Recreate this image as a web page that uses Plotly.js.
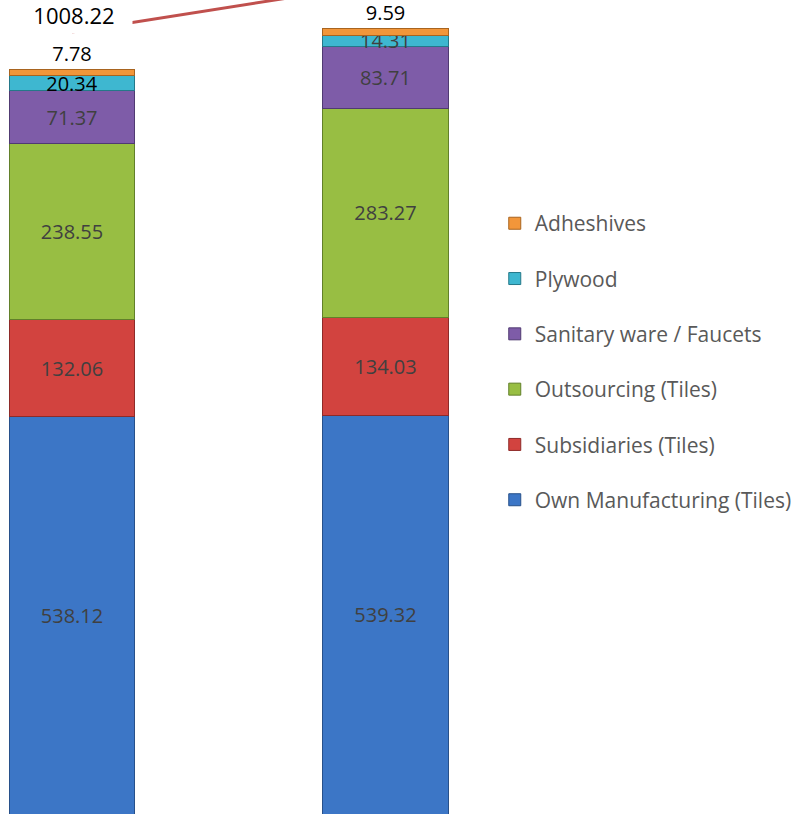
<!DOCTYPE html>
<html>
<head>
<meta charset="utf-8">
<script src="https://cdn.plot.ly/plotly-3.0.1.min.js"></script>
<style>html,body{margin:0;padding:0;background:#fff;} #chart{width:798px;height:814px;}</style>
</head>
<body>
<div id="chart"></div>
<script>
// ---- data ----
var categories = ["Year 1", "Year 2"];
var seriesNames = ["Own Manufacturing (Tiles)", "Subsidiaries (Tiles)", "Outsourcing (Tiles)", "Sanitary ware / Faucets", "Plywood", "Adheshives"];
var ownManufacturing = [538.12, 539.32];
var subsidiaries = [132.06, 134.03];
var outsourcing = [238.55, 283.27];
var sanitary = [71.37, 83.71];
var plywood = [20.34, 14.31];
var adhesives = [7.78, 9.59];
var totals = [1008.22, 1064.23];

var seriesValues = [ownManufacturing, subsidiaries, outsourcing, sanitary, plywood, adhesives];
var fillColors = ["#3c76c6", "#d2433f", "#98be43", "#7e5ca8", "#3eb7d0", "#f2963a"];
var edgeColors = ["#27508a", "#8e2a28", "#62802a", "#503a72", "#247889", "#a8641f"];
var textColors = [["#404040","#404040"],["#404040","#404040"],["#404040","#404040"],["#404040","#404040"],["#000000","#404040"],["#000000","#000000"]];

var nSeries = seriesValues.length;
var traces = seriesValues.map(function (vals, i) {
  var isTop = i === nSeries - 1;
  return {
    type: "bar",
    name: seriesNames[i],
    x: categories,
    y: vals,
    width: 0.4,
    legendgroup: "g" + i,
    legendrank: nSeries - i,
    marker: { color: fillColors[i], line: { color: edgeColors[i], width: 1 } },
    text: vals.map(function (v) { return v.toFixed(2); }),
    textposition: isTop ? "outside" : "inside",
    insidetextanchor: "middle",
    constraintext: "none",
    textangle: 0,
    textfont: { family: "Open Sans, sans-serif", size: 20, color: textColors[i] },
    outsidetextfont: { family: "Open Sans, sans-serif", size: 20, color: textColors[i] },
    cliponaxis: false,
    hoverinfo: "name+y"
  };
});

traces.push({
  type: "scatter",
  mode: "lines",
  name: "Total",
  x: categories,
  y: totals,
  yaxis: "y2",
  line: { color: "#c0504d", width: 3 },
  showlegend: false,
  cliponaxis: true
});

var annotations = [{
  xref: "x", yref: "y2",
  x: categories[0], y: totals[0],
  text: totals[0].toFixed(2),
  showarrow: false,
  yshift: 17, xshift: 2,
  width: 114, height: 34,
  bgcolor: "#ffffff",
  font: { family: "Open Sans, sans-serif", size: 22, color: "#000000" }
}];

var layout = {
  width: 798, height: 814,
  margin: { l: 0, r: 0, t: 0, b: 0, pad: 0 },
  paper_bgcolor: "#ffffff",
  plot_bgcolor: "#ffffff",
  barmode: "stack",
  showlegend: true,
  xaxis: { type: "category", range: [-0.2297, 2.316], visible: false, fixedrange: true },
  yaxis: { range: [0, 1103], visible: false, fixedrange: true },
  yaxis2: { overlaying: "y", range: [121.6, 1044.5], visible: false, fixedrange: true },
  legend: {
    x: 0.62, xanchor: "left",
    y: 0.7505, yanchor: "top",
    traceorder: "grouped",
    tracegroupgap: 25,
    font: { family: "Open Sans, sans-serif", size: 21, color: "#595959" },
    bgcolor: "rgba(0,0,0,0)"
  },
  annotations: annotations
};

Plotly.newPlot("chart", traces, layout, { displayModeBar: false, staticPlot: true });
</script>
</body>
</html>
